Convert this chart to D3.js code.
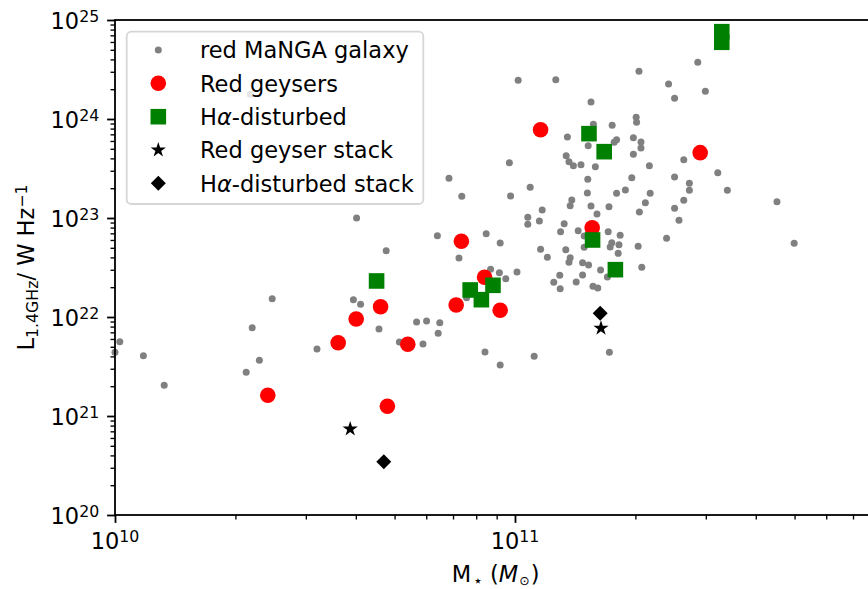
<!DOCTYPE html>
<html><head><meta charset="utf-8">
<script src="https://cdn.jsdelivr.net/npm/d3@7"></script>
<style>
body{margin:0;background:#fff}
svg{display:block;font-family:"DejaVu Sans",sans-serif}
</style>
</head><body>
<svg id="chart" width="868" height="589"></svg>
<script>
// ---- data (log10 values) ----
const mangaLogMass = [11.008,11.102,11.310,11.384,11.399,11.190,11.131,11.196,11.243,11.303,11.304,11.183,11.248,11.254,11.296,11.315,11.315,11.296,11.128,11.135,11.146,11.165,11.201,11.336,10.986,10.835,11.038,11.182,11.292,11.399,10.867,10.989,11.142,11.181,11.254,11.276,11.338,11.326,11.457,11.476,11.422,11.507,11.436,11.436,11.531,11.422,11.655,11.399,11.410,11.379,11.698,11.138,11.190,11.235,11.311,11.205,11.068,11.032,11.032,11.061,11.123,11.114,11.158,11.173,11.233,11.263,11.242,11.260,11.238,11.258,11.308,11.173,11.127,11.064,11.081,11.138,11.135,11.169,11.184,11.214,11.317,11.231,11.169,11.112,11.097,11.113,11.153,11.195,11.207,11.236,10.806,10.678,10.860,10.928,10.963,10.939,10.961,10.977,11.005,10.879,10.660,10.754,10.779,10.812,10.808,10.711,10.770,10.925,11.048,10.963,10.604,10.596,10.614,10.393,10.343,10.505,10.012,10.000,10.071,10.361,10.328,10.123,10.338];
const mangaLogL = [24.391,24.397,24.482,24.354,24.209,24.172,23.818,23.946,23.936,24.017,23.967,23.730,23.765,23.791,23.811,23.768,23.707,23.643,23.629,23.569,23.528,23.538,23.518,23.528,23.559,23.401,23.310,23.391,23.407,23.414,23.219,23.222,23.182,23.253,23.249,23.283,23.249,23.155,24.573,24.280,23.589,23.458,23.351,23.280,23.280,23.179,23.165,23.098,22.977,22.795,22.744,23.124,23.121,23.114,23.061,23.040,23.081,23.007,22.936,22.970,22.942,22.862,22.872,22.818,22.862,22.825,22.751,22.730,22.707,22.643,22.714,22.704,22.680,22.684,22.603,22.599,22.553,22.549,22.525,22.475,22.502,22.404,22.424,22.421,22.351,22.286,22.354,22.310,22.293,21.643,22.821,22.670,22.596,22.841,22.747,22.482,22.447,22.387,22.455,22.195,21.879,21.949,21.960,21.942,21.835,21.747,21.727,21.646,21.603,21.515,23.000,22.175,22.128,22.185,21.892,21.677,21.751,21.643,21.609,21.563,21.441,21.310,24.249];

const geyserLogMass = [11.064,11.463,11.193,10.866,10.924,10.853,10.963,10.664,10.603,10.558,10.732,10.382,10.681];
const geyserLogL    = [23.892,23.660,22.902,22.765,22.401,22.121,22.068,22.104,21.980,21.740,21.724,21.209,21.098];

const haLogMass = [11.517,11.517,11.185,11.223,11.194,11.251,10.654,10.888,10.916,10.945];
const haLogL    = [24.882,24.775,23.852,23.670,22.778,22.478,22.364,22.273,22.175,22.320];

const geyserStackLogMass = [10.588,11.215];
const geyserStackLogL    = [20.869,21.886];

const haStackLogMass = [10.672,11.213];
const haStackLogL    = [20.538,22.037];

const xMajorTicks = [1e10,1e11];
const yMajorTicks = [1e20,1e21,1e22,1e23,1e24,1e25];
const xTickExp = ["10","11"];
const yTickExp = ["20","21","22","23","24","25"];
const legendLabels = ["red MaNGA galaxy","Red geysers","Hα-disturbed","Red geyser stack","Hα-disturbed stack"];

// ---- layout ----
const FS = 22.5, SUB = 15.75;
const L = 115, T = 20, B = 515, R = 876.2;
const x = d3.scaleLog().domain([1e10, 8e11]).range([L, R]);
const y = d3.scaleLog().domain([1e20, 1e25]).range([B, T]);
const svg = d3.select("#chart");

const toPts = (mx, ly) => mx.map((m, i) => ({m: Math.pow(10, m), l: Math.pow(10, ly[i])}));

// ---- axes ticks ----
const xMinor = x.ticks().filter(v => !xMajorTicks.includes(v) && v < 8e11);
const yMinor = y.ticks().filter(v => !yMajorTicks.some(t => Math.abs(t - v) / t < 1e-9));

function styleAxis(g, w) {
  g.select(".domain").remove();
  g.selectAll("line").attr("stroke", "#000").attr("stroke-width", w);
  g.selectAll("text").remove();
}
svg.append("g").attr("transform", `translate(0,${B})`)
  .call(d3.axisBottom(x).tickValues(xMinor).tickSize(4.5).tickFormat(""))
  .call(g => styleAxis(g, 1.35));
svg.append("g").attr("transform", `translate(0,${B})`)
  .call(d3.axisBottom(x).tickValues(xMajorTicks).tickSize(7.9).tickFormat(""))
  .call(g => styleAxis(g, 1.8));
svg.append("g").attr("transform", `translate(${L},0)`)
  .call(d3.axisLeft(y).tickValues(yMinor).tickSize(4.5).tickFormat(""))
  .call(g => styleAxis(g, 1.35));
svg.append("g").attr("transform", `translate(${L},0)`)
  .call(d3.axisLeft(y).tickValues(yMajorTicks).tickSize(7.9).tickFormat(""))
  .call(g => styleAxis(g, 1.8));

// tick labels
xMajorTicks.forEach((v, i) => {
  const t = svg.append("text").attr("x", x(v)).attr("y", 549).attr("text-anchor", "middle")
    .attr("font-size", FS).attr("fill", "#000");
  t.append("tspan").text("10");
  t.append("tspan").attr("font-size", SUB).attr("dy", -7).text(xTickExp[i]);
});
yMajorTicks.forEach((v, i) => {
  const t = svg.append("text").attr("x", 99.2).attr("y", y(v) + 8.8).attr("text-anchor", "end")
    .attr("font-size", FS).attr("fill", "#000");
  t.append("tspan").text("10");
  t.append("tspan").attr("font-size", SUB).attr("dy", -7).text(yTickExp[i]);
});

// axis labels
const xl = svg.append("text").attr("x", (L + R) / 2).attr("y", 582).attr("text-anchor", "middle")
  .attr("font-size", FS).attr("fill", "#000");
xl.append("tspan").text("M");
xl.append("tspan").attr("font-size", SUB).attr("dy", 4).attr("dx", 2).text("⋆");
xl.append("tspan").attr("dy", -4).text(" (");
xl.append("tspan").attr("font-style", "italic").text("M");
xl.append("tspan").attr("font-size", 12.5).attr("dy", 3).attr("dx", 1).text("⊙");
xl.append("tspan").attr("dy", -3).attr("dx", 1).text(")");

const yl = svg.append("text").attr("transform", `translate(33.5,${(T + B) / 2}) rotate(-90)`)
  .attr("text-anchor", "middle").attr("font-size", FS).attr("fill", "#000");
yl.append("tspan").text("L");
yl.append("tspan").attr("font-size", SUB).attr("dy", 4).text("1.4GHz");
yl.append("tspan").attr("dy", -4).text("/ W Hz");
yl.append("tspan").attr("font-size", SUB).attr("dy", -7).text("−1");

// ---- marks ----
const plot = svg.append("g");
plot.selectAll("circle.manga").data(toPts(mangaLogMass, mangaLogL)).join("circle")
  .attr("class", "manga").attr("cx", d => x(d.m)).attr("cy", d => y(d.l)).attr("r", 3.5).attr("fill", "#808080");
plot.selectAll("circle.geyser").data(toPts(geyserLogMass, geyserLogL)).join("circle")
  .attr("class", "geyser").attr("cx", d => x(d.m)).attr("cy", d => y(d.l)).attr("r", 7.8).attr("fill", "#ff0000");
const sq = d3.symbol(d3.symbolSquare, 15.6 * 15.6);
plot.selectAll("path.ha").data(toPts(haLogMass, haLogL)).join("path")
  .attr("class", "ha").attr("d", sq).attr("transform", d => `translate(${x(d.m)},${y(d.l)})`).attr("fill", "#008000");
const star = d3.symbol(d3.symbolStar, 72);
plot.selectAll("path.gs").data(toPts(geyserStackLogMass, geyserStackLogL)).join("path")
  .attr("class", "gs").attr("d", star).attr("transform", d => `translate(${x(d.m)},${y(d.l)})`).attr("fill", "#000");
const dia = d3.symbol(d3.symbolSquare, 112);
plot.selectAll("path.hs").data(toPts(haStackLogMass, haStackLogL)).join("path")
  .attr("class", "hs").attr("d", dia).attr("transform", d => `translate(${x(d.m)},${y(d.l)}) rotate(45)`).attr("fill", "#000");

// spines
svg.append("rect").attr("x", L).attr("y", T).attr("width", R - L).attr("height", B - T)
  .attr("fill", "none").attr("stroke", "#000").attr("stroke-width", 1.8);

// ---- legend ----
const lg = svg.append("g");
lg.append("rect").attr("x", 126.7).attr("y", 31.7).attr("width", 296.6).attr("height", 172.3).attr("rx", 4.5)
  .attr("fill", "#fff").attr("fill-opacity", 0.8).attr("stroke", "#cccccc").attr("stroke-opacity", 0.8).attr("stroke-width", 1.8);
const rowY = [50, 83.3, 116.7, 150, 183.3];
const mx = 158.3;
lg.append("circle").attr("cx", mx).attr("cy", rowY[0]).attr("r", 3.5).attr("fill", "#808080");
lg.append("circle").attr("cx", mx).attr("cy", rowY[1]).attr("r", 7.8).attr("fill", "#ff0000");
lg.append("path").attr("d", sq).attr("transform", `translate(${mx},${rowY[2]})`).attr("fill", "#008000");
lg.append("path").attr("d", star).attr("transform", `translate(${mx},${rowY[3]})`).attr("fill", "#000");
lg.append("path").attr("d", dia).attr("transform", `translate(${mx},${rowY[4]}) rotate(45)`).attr("fill", "#000");
legendLabels.forEach((lab, i) => {
  const t = lg.append("text").attr("x", 200).attr("y", rowY[i] + 8.3).attr("font-size", FS).attr("fill", "#000");
  if (lab.includes("α")) {
    const parts = lab.split("α");
    t.append("tspan").text(parts[0]);
    t.append("tspan").attr("font-style", "italic").text("α");
    t.append("tspan").text(parts[1]);
  } else t.text(lab);
});
</script>
</body></html>
